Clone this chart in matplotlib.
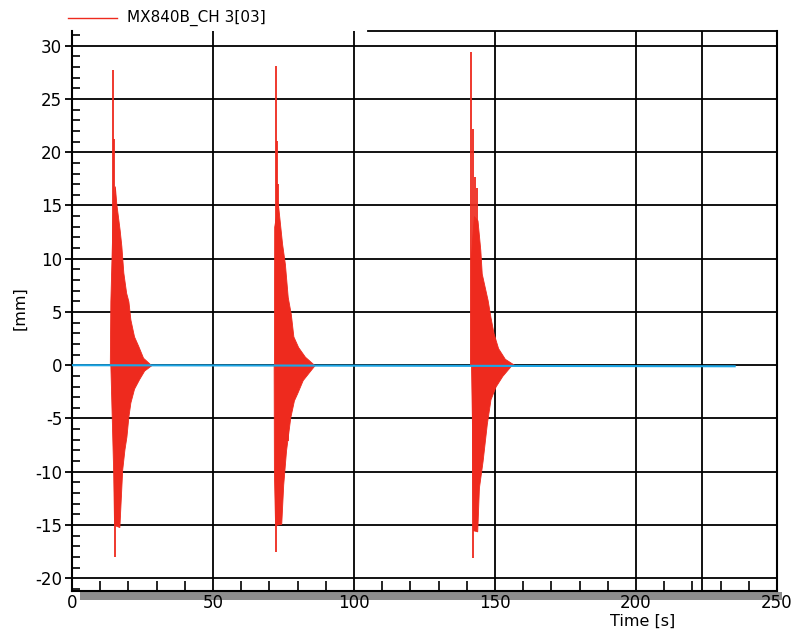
#!/usr/bin/env python3
"""Recreate MX840B channel 3 displacement trace (three decaying bursts)."""
import matplotlib
matplotlib.use("Agg")
import matplotlib.pyplot as plt
from matplotlib.lines import Line2D
from matplotlib.patches import Rectangle
from matplotlib.ticker import MultipleLocator

RED = "#ee2a1e"
BLUE = "#1ba6e6"

# burst envelopes: time [s], displacement [mm]
b1_up_t = [13.4, 13.6, 14.4, 15.2, 15.7, 16.9, 17.5, 18.2, 19.2, 20.0, 20.7, 22.0, 23.5, 25.2, 28.1]
b1_up_v = [0, 6.0, 14.0, 16.8, 15.2, 12.7, 11.2, 8.7, 6.8, 6.0, 4.3, 2.7, 1.8, 0.7, 0]
b1_lo_t = [13.6, 14.1, 14.6, 14.9, 16.8, 17.8, 18.6, 19.3, 20.0, 20.7, 22.0, 23.8, 25.6, 28.1]
b1_lo_v = [0, -5.0, -10.0, -15.0, -15.2, -9.8, -7.9, -6.7, -4.8, -3.5, -2.2, -1.3, -0.5, 0]
b1_spk_t = [14.7, 15.0, 15.4]
b1_spk_v = [27.7, 21.2, -18.0]

b2_up_t = [71.6, 71.7, 73.0, 74.5, 75.5, 76.5, 77.6, 78.5, 80.2, 82.6, 86.0]
b2_up_v = [0, 13.0, 15.2, 11.4, 9.5, 6.4, 4.8, 2.7, 1.7, 0.8, 0]
b2_lo_t = [71.5, 71.6, 72.0, 74.2, 74.9, 75.9, 77.4, 78.7, 79.9, 81.8, 84.2, 86.0]
b2_lo_v = [0, -10.0, -15.0, -14.9, -11.2, -8.0, -4.9, -3.3, -2.6, -1.4, -0.6, 0]
b2_spk_t = [72.3, 72.6, 73.1, 72.3, 76.5]
b2_spk_v = [28.1, 21.1, 17.0, -17.5, -7.1]

b3_up_t = [141.3, 141.4, 142.5, 143.8, 144.8, 145.3, 147.4, 148.4, 149.5, 151.1, 153.5, 157.0]
b3_up_v = [0, 10.0, 14.0, 13.6, 10.8, 8.6, 6.1, 4.5, 3.0, 1.6, 0.6, 0]
b3_lo_t = [141.5, 141.8, 142.0, 142.2, 143.7, 144.3, 145.6, 147.1, 148.4, 150.2, 152.6, 155.8]
b3_lo_v = [0, -5.0, -12.0, -15.5, -15.6, -11.5, -9.0, -5.5, -3.2, -2.0, -1.0, 0]
b3_spk_t = [141.5, 142.2, 143.0, 143.5, 142.3]
b3_spk_v = [29.4, 22.2, 17.7, 16.6, -18.1]

# slow drift channel (blue)
drift_t = [0, 235]
drift_v = [0.0, -0.1]

cursor_t = 223.5
x_ticks = [0, 50, 100, 150, 200, 250]
y_ticks = [-20, -15, -10, -5, 0, 5, 10, 15, 20, 25, 30]


def main() -> None:
    plt.rcParams["axes.unicode_minus"] = False
    fig = plt.figure(figsize=(7.93, 6.30), dpi=100)
    ax = fig.add_axes([0.0908, 0.062, 0.889, 0.889])
    ax.set_xlim(0, 250)
    ax.set_ylim(-21.2, 31.4)

    bursts = [
        (b1_up_t, b1_up_v, b1_lo_t, b1_lo_v, b1_spk_t, b1_spk_v),
        (b2_up_t, b2_up_v, b2_lo_t, b2_lo_v, b2_spk_t, b2_spk_v),
        (b3_up_t, b3_up_v, b3_lo_t, b3_lo_v, b3_spk_t, b3_spk_v),
    ]
    for ut, uv, lt, lv, st, sv in bursts:
        ax.fill_between(ut, 0, uv, color=RED, lw=0.6, edgecolor=RED, zorder=3)
        ax.fill_between(lt, lv, 0, color=RED, lw=0.6, edgecolor=RED, zorder=3)
        ax.vlines(st, 0, sv, color=RED, lw=1.3, zorder=3)

    ax.plot(drift_t, drift_v, color=BLUE, lw=1.5, zorder=4)

    # grid + frame
    ax.set_xticks(x_ticks)
    ax.set_yticks(y_ticks)
    ax.xaxis.set_minor_locator(MultipleLocator(10))
    ax.yaxis.set_minor_locator(MultipleLocator(1))
    ax.grid(True, which="major", color="black", lw=1.3, zorder=1)
    ax.axvline(cursor_t, color="black", lw=1.3, zorder=1)
    ax.set_axisbelow(True)

    for side in ["left", "bottom", "right"]:
        ax.spines[side].set_color("black")
        ax.spines[side].set_linewidth(1.5)
    ax.spines["top"].set_visible(False)
    ax.plot([105, 250], [31.4, 31.4], color="black", lw=1.3, clip_on=False, zorder=2)

    ax.tick_params(axis="y", which="major", direction="out", length=5, width=1.3,
                   pad=2, labelsize=12)
    ax.tick_params(axis="y", which="minor", direction="in", length=6, width=1.2)
    ax.tick_params(axis="x", which="major", direction="in", length=0, pad=2, labelsize=12)
    ax.tick_params(axis="x", which="minor", direction="in", length=7, width=1.2)

    # grey shadow under the time axis
    ax.add_patch(Rectangle((0.012, -0.016), 0.995, 0.015, transform=ax.transAxes,
                           facecolor="#8e8e8e", edgecolor="none", clip_on=False, zorder=0))

    # legend, axis titles
    fig.add_artist(Line2D([0.0858, 0.1475], [0.971, 0.971], color=RED, lw=1.0,
                          transform=fig.transFigure))
    fig.text(0.160, 0.971, "MX840B_CH 3[03]", fontsize=11, va="center", ha="left")
    fig.text(0.81, 0.002, "Time [s]", fontsize=11.5, va="bottom", ha="center")
    fig.text(0.025, 0.511, "[mm]", fontsize=11.5, va="center", ha="center", rotation=90)

    fig.savefig("out.png", dpi=100)


if __name__ == "__main__":
    main()
